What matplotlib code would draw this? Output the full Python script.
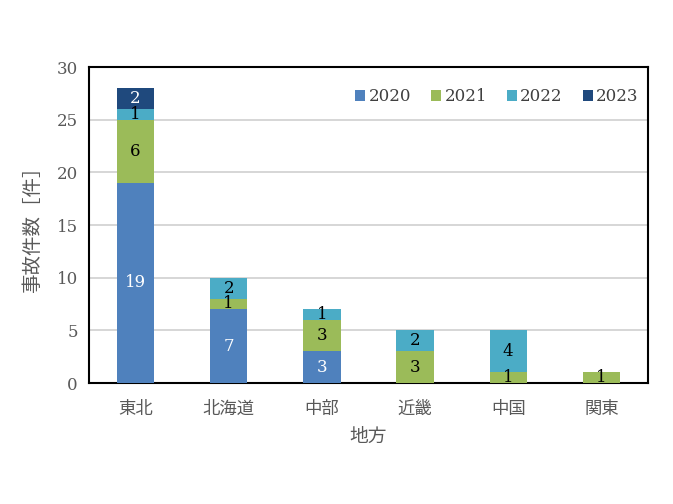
import matplotlib
matplotlib.use("Agg")
import matplotlib.pyplot as plt
import numpy as np

regions = ["東北", "北海道", "中部", "近畿", "中国", "関東"]
years = ["2020", "2021", "2022", "2023"]
v2020 = [19, 7, 3, 0, 0, 0]
v2021 = [6, 1, 3, 3, 1, 1]
v2022 = [1, 2, 1, 2, 4, 0]
v2023 = [2, 0, 0, 0, 0, 0]
series = [v2020, v2021, v2022, v2023]
colors = ["#4F81BD", "#9BBB59", "#4BACC6", "#1F497D"]
label_colors = ["white", "black", "black", "white"]
yticks = [0, 5, 10, 15, 20, 25, 30]

num_font = ["DejaVu Serif"]
jp_font = ["Noto Sans CJK JP", "DejaVu Sans"]

fig = plt.figure(figsize=(6.73, 5.04), dpi=100)
ax = fig.add_axes([89/673, 1-383/504, (648-89)/673, (383-67)/504])

x = np.arange(len(regions))
bottom = np.zeros(len(regions))
for vals, c, lc, yr in zip(series, colors, label_colors, years):
    vals = np.array(vals, dtype=float)
    ax.bar(x, vals, 0.4, bottom=bottom, color=c, label=yr, zorder=3)
    for xi, b, v in zip(x, bottom, vals):
        if v > 0:
            ax.text(xi, b + v/2, f"{int(v)}", ha="center", va="center",
                    color=lc, fontsize=12, family=num_font, zorder=4)
    bottom += vals

ax.set_xlim(-0.5, 5.5)
ax.set_ylim(0, 30)
ax.set_yticks(yticks)
ax.set_yticklabels([str(t) for t in yticks], family=num_font, fontsize=12, color="#595959")
ax.set_xticks(x)
ax.set_xticklabels(regions, family=jp_font, fontsize=12.5, color="#595959")
ax.tick_params(length=0, pad=8)
ax.tick_params(axis="x", pad=12)
ax.yaxis.grid(True, color="#D0D0D0", linewidth=1.2, zorder=0)
for s in ax.spines.values():
    s.set_color("black")
    s.set_linewidth(1.5)

ax.set_ylabel("事故件数［件］", family=jp_font, fontsize=14, color="#595959", labelpad=10)
ax.set_xlabel("地方", family=jp_font, fontsize=13.5, color="#595959", labelpad=6)

leg = ax.legend(loc="upper right", ncol=4, frameon=False, handlelength=0.6, handleheight=0.6,
                handletextpad=0.2, columnspacing=1.2, bbox_to_anchor=(1.01, 0.98),
                prop={"family": num_font, "size": 12})
for t in leg.get_texts():
    t.set_color("#404040")

fig.savefig("out.png", dpi=100)
